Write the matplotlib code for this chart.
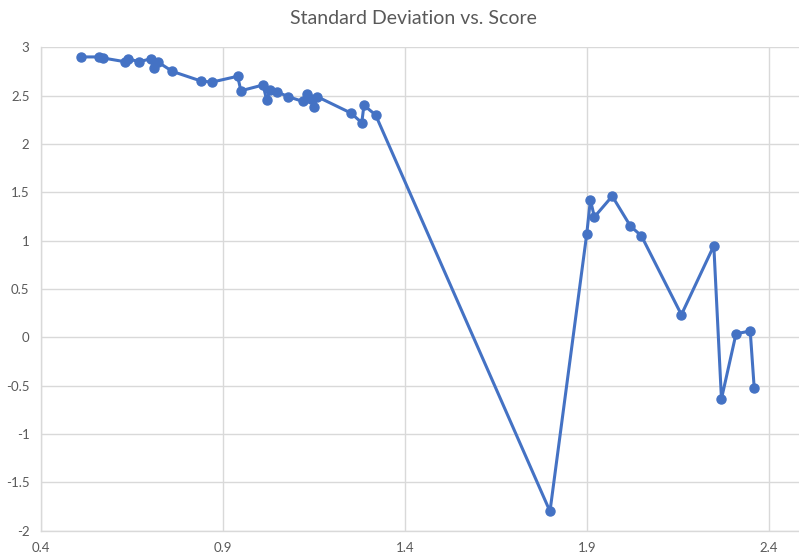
import matplotlib
matplotlib.use("Agg")
import matplotlib.pyplot as plt
import numpy as np

# Score on x, standard deviation on y
score = [0.511, 0.560, 0.570, 0.632, 0.641, 0.670, 0.702, 0.711, 0.721, 0.762,
         0.841, 0.871, 0.941, 0.950, 1.011, 1.021, 1.030, 1.049, 1.079, 1.120,
         1.131, 1.142, 1.151, 1.159, 1.252, 1.282, 1.288, 1.320, 1.799, 1.900,
         1.910, 1.921, 1.970, 2.020, 2.050, 2.160, 2.249, 2.270, 2.310, 2.349,
         2.360]
std_dev = [2.90, 2.90, 2.89, 2.85, 2.88, 2.85, 2.88, 2.79, 2.85, 2.75,
           2.65, 2.64, 2.70, 2.55, 2.61, 2.45, 2.56, 2.54, 2.49, 2.44,
           2.52, 2.47, 2.38, 2.49, 2.32, 2.22, 2.40, 2.30, -1.80, 1.07,
           1.42, 1.245, 1.46, 1.15, 1.05, 0.234, 0.947, -0.637, 0.037, 0.065,
           -0.526]

x_ticks = [0.4, 0.9, 1.4, 1.9, 2.4]
y_ticks = [-2, -1.5, -1, -0.5, 0, 0.5, 1, 1.5, 2, 2.5, 3]

plt.rcParams['font.family'] = ['Lato', 'DejaVu Sans']
grid_col = '#d9d9d9'
text_col = '#595959'
blue = '#4472c4'

fig = plt.figure(figsize=(7.99, 5.56), dpi=100)
ax = fig.add_axes([0.0509, 0.0455, 0.9491, 0.8695])

ax.plot(score, std_dev, color=blue, linewidth=2.2, marker='o', markersize=6.5,
        zorder=3)

ax.set_xlim(0.4, 2.483)
ax.set_ylim(-2, 3)
ax.set_xticks(x_ticks)
ax.set_xticklabels([str(v) for v in x_ticks])
ax.set_yticks(y_ticks)
ax.set_yticklabels([('%g' % v) for v in y_ticks])

ax.grid(True, color=grid_col, linewidth=1.0)
ax.set_axisbelow(True)
for side in ['top', 'right']:
    ax.spines[side].set_visible(False)
for side in ['left', 'bottom']:
    ax.spines[side].set_color(grid_col)
    ax.spines[side].set_linewidth(1.0)
ax.tick_params(length=0, colors=text_col, labelsize=9.5, pad=8)

fig.text(0.517, 0.967, 'Standard Deviation vs. Score', ha='center', va='center',
         fontsize=14, color=text_col)

fig.savefig('out.png', dpi=100)
